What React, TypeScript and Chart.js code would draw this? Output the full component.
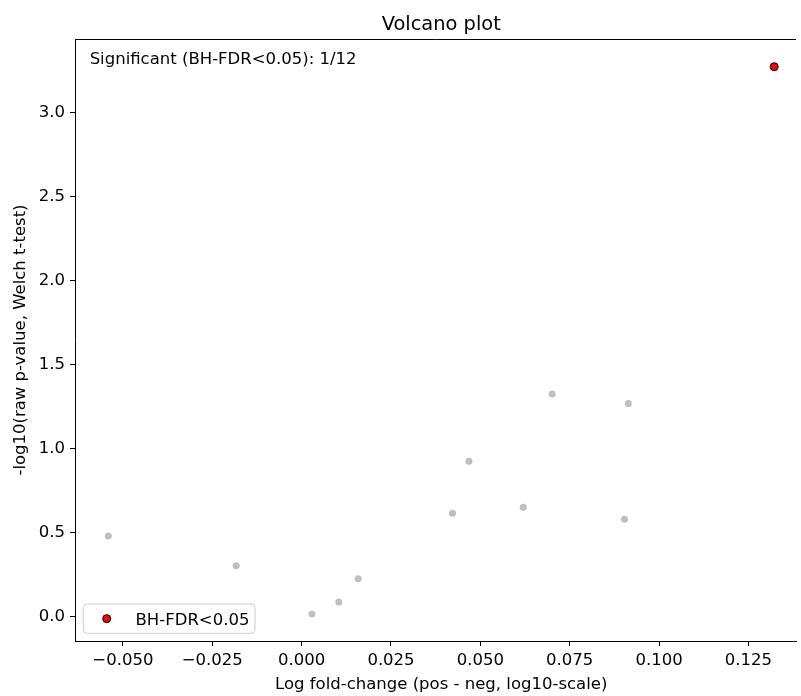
import React, { useEffect, useRef } from "react";
import { Chart, registerables } from "chart.js";

Chart.register(...registerables);

const FONT = "'DejaVu Sans', sans-serif";

const titleText = "Volcano plot";
const xLabel = "Log fold-change (pos - neg, log10-scale)";
const yLabel = "-log10(raw p-value, Welch t-test)";
const annotationText = "Significant (BH-FDR<0.05): 1/12";
const sigLabel = "BH-FDR<0.05";

// non-significant genes
const nsLogFC = [-0.0541, -0.0183, 0.0029, 0.0104, 0.0158, 0.0422, 0.0468, 0.062, 0.0701, 0.0903, 0.0914];
const nsNegLogP = [0.478, 0.301, 0.014, 0.085, 0.224, 0.613, 0.923, 0.649, 1.323, 0.577, 1.266];
// significant genes
const sigLogFC = [0.1322];
const sigNegLogP = [3.271];

const xTicks = [-0.05, -0.025, 0, 0.025, 0.05, 0.075, 0.1, 0.125];
const yTicks = [0, 0.5, 1, 1.5, 2, 2.5, 3];
// full axis range is [-0.0634, 0.1415]; the figure is cropped at 0.1383
const xRange = [-0.0634, 0.1383];
const xFullMax = 0.1415;
const yRange = [-0.147, 3.436];

const fmt = (v: number, d: number) => {
  const s = Math.abs(v).toFixed(d);
  return v < -1e-12 ? "\u2212" + s : s;
};

const overlay = {
  id: "overlay",
  afterDraw(chart: any) {
    const ctx = chart.ctx;
    const a = chart.chartArea;
    const xs = chart.scales.x;
    const fullRight = xs.getPixelForValue(xFullMax);
    const cx = (a.left + fullRight) / 2;
    ctx.save();
    // top spine
    ctx.strokeStyle = "#000";
    ctx.lineWidth = 1;
    ctx.beginPath();
    const ty = Math.round(a.top) + 0.5;
    ctx.moveTo(a.left, ty);
    ctx.lineTo(a.right, ty);
    ctx.stroke();
    // title
    ctx.fillStyle = "#000";
    ctx.font = `19.4px ${FONT}`;
    ctx.textAlign = "center";
    ctx.textBaseline = "alphabetic";
    ctx.fillText(titleText, cx, a.top - 9.3);
    // x axis title
    ctx.font = `16.5px ${FONT}`;
    ctx.textBaseline = "middle";
    ctx.fillText(xLabel, cx, chart.height - 10.9);
    // annotation
    ctx.textBaseline = "alphabetic";
    ctx.textAlign = "left";
    ctx.fillText(annotationText, a.left + 0.02 * (fullRight - a.left), a.top + 0.02 * (a.bottom - a.top) + 12.6);
    // legend
    const bx = a.left + 8.3, by = a.bottom - 37, bw = 171.7, bh = 29.3, r = 4;
    ctx.beginPath();
    ctx.moveTo(bx + r, by);
    ctx.lineTo(bx + bw - r, by);
    ctx.arcTo(bx + bw, by, bx + bw, by + r, r);
    ctx.lineTo(bx + bw, by + bh - r);
    ctx.arcTo(bx + bw, by + bh, bx + bw - r, by + bh, r);
    ctx.lineTo(bx + r, by + bh);
    ctx.arcTo(bx, by + bh, bx, by + bh - r, r);
    ctx.lineTo(bx, by + r);
    ctx.arcTo(bx, by, bx + r, by, r);
    ctx.closePath();
    ctx.fillStyle = "rgba(255,255,255,0.8)";
    ctx.fill();
    ctx.strokeStyle = "#cccccc";
    ctx.lineWidth = 1;
    ctx.stroke();
    const ds = chart.data.datasets[1];
    const my = by + bh / 2;
    ctx.beginPath();
    ctx.arc(bx + 23.4, my, 4, 0, Math.PI * 2);
    ctx.fillStyle = ds.backgroundColor;
    ctx.fill();
    ctx.strokeStyle = ds.borderColor;
    ctx.lineWidth = 1;
    ctx.stroke();
    ctx.fillStyle = "#000";
    ctx.font = `16.5px ${FONT}`;
    ctx.textAlign = "left";
    ctx.fillText(ds.label, bx + 52.2, my + 6);
    ctx.restore();
  },
};

export default function App() {
  const ref = useRef<HTMLCanvasElement>(null);
  useEffect(() => {
    if (!ref.current) return;
    const chart = new Chart(ref.current, {
      type: "scatter",
      data: {
        datasets: [
          {
            label: "_nolegend_",
            data: nsLogFC.map((x, i) => ({ x, y: nsNegLogP[i] })),
            backgroundColor: "rgb(191,191,191)",
            borderWidth: 0,
            pointRadius: 3.5,
          },
          {
            label: sigLabel,
            data: sigLogFC.map((x, i) => ({ x, y: sigNegLogP[i] })),
            backgroundColor: "#ff0000",
            borderColor: "#000000",
            borderWidth: 1,
            pointRadius: 4,
          },
        ],
      },
      options: {
        responsive: false,
        animation: false,
        devicePixelRatio: 1,
        layout: { padding: { top: 39, left: 0, right: 0, bottom: 0 } },
        plugins: {
          legend: { display: false },
          tooltip: { enabled: false },
          title: { display: false },
        },
        scales: {
          x: {
            type: "linear",
            min: xRange[0],
            max: xRange[1],
            afterBuildTicks: (s: any) => {
              s.ticks = xTicks.map((v) => ({ value: v }));
            },
            afterFit: (s: any) => {
              s.height = 55;
            },
            ticks: {
              color: "#000",
              font: { family: FONT, size: 16.5 },
              padding: 4.5,
              maxRotation: 0,
              autoSkip: false,
              callback: (v: any) => fmt(Number(v), 3),
            },
            grid: { drawOnChartArea: false, drawTicks: true, tickLength: 5, color: "#000", tickWidth: 1 },
            border: { display: true, color: "#000", width: 1 },
            title: { display: false },
          },
          y: {
            type: "linear",
            min: yRange[0],
            max: yRange[1],
            afterBuildTicks: (s: any) => {
              s.ticks = yTicks.map((v) => ({ value: v }));
            },
            afterFit: (s: any) => {
              s.width = 75;
            },
            ticks: {
              color: "#000",
              font: { family: FONT, size: 16.5 },
              padding: 5,
              autoSkip: false,
              callback: (v: any) => fmt(Number(v), 1),
            },
            grid: { drawOnChartArea: false, drawTicks: true, tickLength: 5, color: "#000", tickWidth: 1 },
            border: { display: true, color: "#000", width: 1 },
            title: {
              display: true,
              text: yLabel,
              color: "#000",
              font: { family: FONT, size: 16.5, lineHeight: 1.2 },
              padding: { top: 11, bottom: 0 },
            },
          },
        },
      },
      plugins: [overlay],
    } as any);
    return () => chart.destroy();
  }, []);
  return (
    <div style={{ position: "fixed", left: 0, top: 0, width: 801, height: 696, overflow: "hidden", background: "#fff" }}>
      <canvas ref={ref} width={801} height={696} style={{ display: "block", width: 801, height: 696 }} />
    </div>
  );
}
